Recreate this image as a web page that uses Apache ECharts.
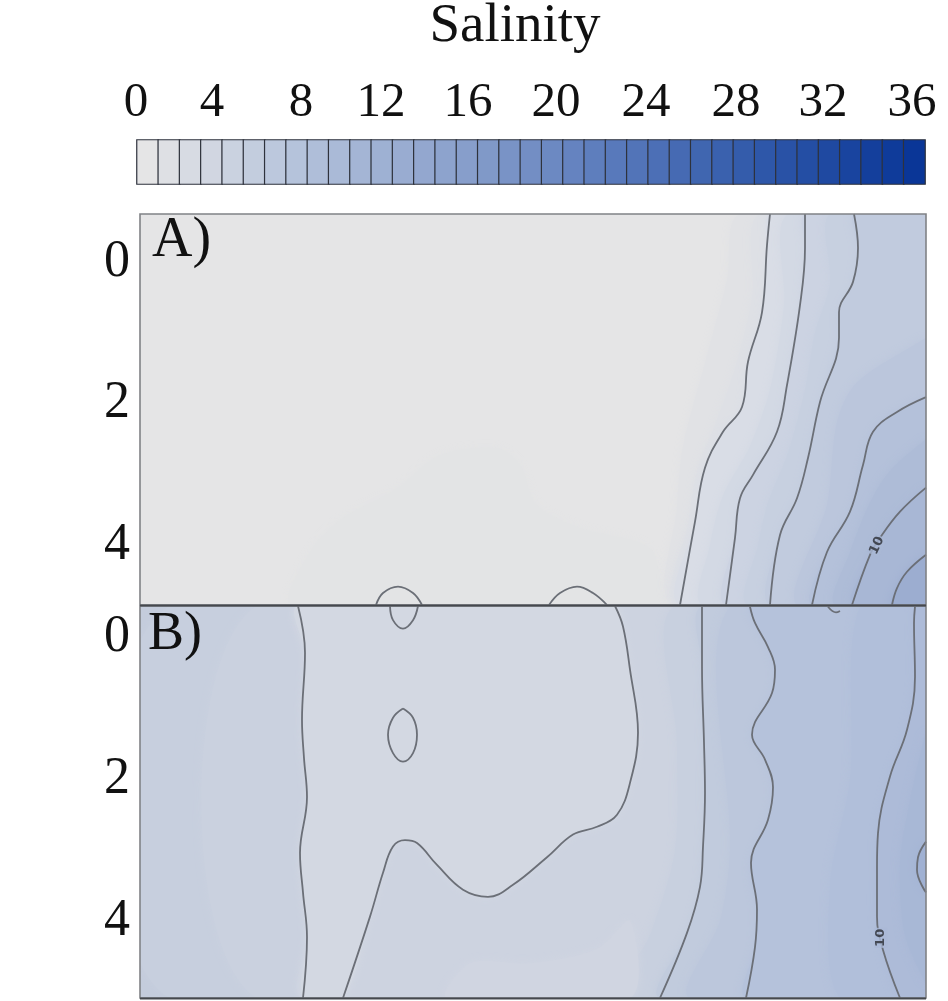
<!DOCTYPE html>
<html><head><meta charset="utf-8">
<style>html,body{margin:0;padding:0;background:#fff}#c{width:948px;height:1001px}</style>
<script src="https://cdn.jsdelivr.net/npm/echarts@6/dist/echarts.min.js"></script>
</head><body><div id="c"></div>
<script>
// ---------- colour bar ----------
const barLevels=[0,1,2,3,4,5,6,7,8,9,10,11,12,13,14,15,16,17,18,19,20,21,22,23,24,25,26,27,28,29,30,31,32,33,34,35,36];
const barColors=['#e5e5e6','#b4c2db','#8ba1cc','#5a7bbc','#2f58a9','#0a3697'];
const barTickLabels=['0','4','8','12','16','20','24','28','32','36'];
const depthTicks=[0,2,4];

// ---------- panel A contours: [distance, depth] ----------
const contourA1=[[63,-.68],[62.7,-.24],[62.2,.71],[60.8,1.41],[60.2,2.05],[58.3,2.4],[56.5,2.91],[55.5,3.67],[54,4.85]];
const contourA2=[[66.5,-.68],[66.5,-.2],[66,.61],[64.7,1.74],[63.7,2.4],[61.3,3.01],[60,3.34],[59.5,3.9],[58.6,4.85]];
const contourA3=[[71.4,-.68],[71.8,-.2],[71.3,.28],[69.9,.71],[69.9,1.07],[68,1.98],[66.8,2.77],[65.7,3.34],[64,3.86],[63,4.85]];
const contourA4=[[78.6,1.91],[75.7,2.12],[73.3,2.4],[72.3,2.87],[71,3.53],[68.7,4.1],[67.2,4.85]];
const contourA5=[[78.6,3.19],[76,3.53],[74,3.9],[73,4.14],[71.2,4.85]];
const contourA6=[[78.6,4.14],[76.7,4.38],[75.7,4.61],[75.2,4.85]];
const contourA7=[[23.6,4.85],[24.3,4.68],[25.8,4.59],[27.3,4.68],[28.2,4.85]];
const contourA8=[[40.9,4.85],[42,4.68],[43.7,4.59],[45.3,4.68],[46.7,4.85]];
// ---------- panel A fill boundaries ----------
const fillA0=[[0,-.68],[0,4.85]];
const fillA1=[[15.3,4.85],[17,4.1],[20.3,3.62],[25.7,3.2],[30,2.73],[35.7,2.63],[38,2.87],[39.7,3.44],[44,3.76],[51,4.05],[53.3,4.85]];
const fillA2=[[60,-.68],[58.7,.25],[56.7,1.32],[54.3,2.6],[53.7,3.46],[53.3,4.85]];
const fillA3=[[62,-.68],[61.2,.5],[59.5,1.5],[57.5,2.3],[55.8,2.9],[54.8,3.7],[53.6,4.85]];
const fillA5=[[64.8,-.68],[64.4,.6],[63,1.8],[61,2.6],[58.3,3.3],[57,4],[56.3,4.85]];
const fillA7=[[69,-.68],[69,.3],[67.5,1],[66.5,1.8],[64.8,2.7],[62.8,3.4],[61.8,4],[60.8,4.85]];
const fillA9=[[78.6,1.07],[71.7,1.7],[69.7,2.26],[68.7,3.43],[65.7,4.85]];
const fillA11=[[78.6,2.5],[75,2.95],[73,3.4],[71,4.1],[69.5,4.85]];

// ---------- panel B contours ----------
const contourB1=[[15.8,-.45],[16.5,.21],[16.2,1.16],[16.4,1.7],[16.7,2.25],[16,3.04],[16.3,3.6],[16.7,4.23],[16.3,5.09]];
const contourB2=[[47.5,-.45],[48.3,-.16],[49,.45],[49.8,1.34],[49,2.05],[47.7,2.5],[45.7,2.67],[43.3,2.78],[40.7,3.1],[37.3,3.49],[34.8,3.66],[32.3,3.56],[29.7,3.21],[27.7,2.9],[26.5,2.86],[25.3,2.95],[24.3,3.32],[23,3.94],[20.3,5.09]];
const contourB3=[[25,-.45],[25.3,-.25],[26.3,-.13],[27.3,-.25],[27.8,-.45]];
const contourB4=[[26.3,1],[27.3,1.13],[27.7,1.37],[27.3,1.63],[26.3,1.75],[25.3,1.63],[24.8,1.37],[25.3,1.13],[26.3,1]];
const contourB5=[[56.2,-.44],[56.2,.41],[56.4,1.48],[56.5,2.19],[56.3,2.95],[56,3.52],[54.7,4.17],[52,5.09]];
const contourB6=[[61,-.44],[61.5,-.21],[62.8,.13],[63.5,.45],[63.2,.78],[61.2,1.37],[62.5,1.72],[63.3,2.11],[62.8,2.57],[61.1,3.18],[61.7,3.84],[61.5,4.37],[60.6,5.09]];
const contourB7=[[77.5,-.44],[77.4,-.21],[77.5,.55],[76.7,1.3],[75,1.96],[73.8,2.76],[73.7,3.24],[73.7,3.94],[74.3,4.41],[76,5.09]];
const contourB8=[[78.6,2.88],[77.8,3.1],[77.7,3.28],[78.6,3.6]];
const contourB9=[[68.8,-.44],[69.6,-.36],[70,-.38]];
// ---------- panel B fill boundaries ----------
const fillB0=[[0,-.45],[0,5.09]];
const fillB1=[[3,-.45],[3,5.09]];
const fillB2=[[11.7,-.45],[11.7,5.09]];
const fillB5=[[53.5,-.45],[53.7,1.5],[53.5,3],[51,4.2],[48,5.09]];
const fillB7=[[59,-.44],[59,3],[58,4],[55,5.09]];
const fillB9=[[72,-.44],[71,2],[69,3.5],[70,5.09]];
const fillB11=[[78.6,1.3],[77,2.3],[76,3.2],[76.5,4.2],[78.6,4.9]];
const fillBPatch=[[30.7,5.09],[33,4.6],[39,4.6],[45.7,4.4],[49,4],[49,5.09]];

const colorsA=['#e5e5e6','#e3e4e5','#e1e2e5','#dee0e5','#d9dde6','#d3d9e4','#ccd3e2','#c7d0e0','#c1cbde','#bbc6dc','#b4c1da','#aebcd7','#a8b7d5','#9cadd0'];
const colorsB=['#c4ccdc','#c7cfde','#cad1df','#cdd3e0','#d3d8e2','#c8d0df','#c1cbdd','#bcc7dc','#b5c2db','#b1bfda','#adbbd8','#a8b8d6','#a0b1d3','#d0d5e1'];

const contoursA=[contourA1,contourA2,contourA3,contourA4,contourA5,contourA6,contourA7,contourA8];
const contoursB=[contourB1,contourB2,contourB3,contourB4,contourB5,contourB6,contourB7,contourB8,contourB9];
const labelA=[[73.7,4.01]];
const labelB=[[74.1,4.24]];

const X_MAX=78.6;
function right(c){const f=c[0],l=c[c.length-1];return c.concat([[X_MAX,l[1]],[X_MAX,f[1]]]);}
const polysA=[fillA0,fillA1,fillA2,fillA3,contourA1,fillA5,contourA2,fillA7,contourA3,fillA9,contourA4,fillA11,contourA5,contourA6].map(right);
const polysB=[right(fillB0),right(fillB1),right(fillB2),right(contourB1),
  contourB1.concat(contourB2.slice().reverse()),
  right(fillB5),right(contourB5),right(fillB7),right(contourB6),right(fillB9),right(contourB7),right(fillB11),right(contourB8),fillBPatch];
function bandSeries(idx,polys,colors){return {
  type:'custom',xAxisIndex:idx,yAxisIndex:idx,z:1,silent:true,clip:true,
  data:polys.map((p,i)=>[p[0][0],p[0][1],i]),
  renderItem:(params,api)=>{
    const i=params.dataIndex;
    return {type:'polygon',shape:{points:polys[i].map(q=>api.coord(q)),smooth:0.3},
      style:{fill:colors[i],shadowBlur:10,shadowColor:colors[i]}};
  }};}
function lineSeries(idx,c){return {
  type:'line',xAxisIndex:idx,yAxisIndex:idx,z:3,data:c,symbol:'none',smooth:.4,silent:true,
  lineStyle:{color:'#6b6f77',width:1.8}};}
function labelSeries(idx,pts,rot,bg){return {
  type:'scatter',xAxisIndex:idx,yAxisIndex:idx,z:4,data:pts,symbolSize:0,silent:true,
  label:{show:true,position:'inside',formatter:'10',rotate:rot,fontFamily:'DejaVu Sans',fontSize:13,fontWeight:'bold',
    color:'#2a2d33',backgroundColor:bg,padding:[0,1]}};}

const GRID_L=140,GRID_W=786;
function valueX(idx){return {type:'value',gridIndex:idx,min:0,max:X_MAX,show:false};}
function valueY(idx,min,max){return {type:'value',gridIndex:idx,min:min,max:max,inverse:true,
  axisLine:{show:false},axisTick:{show:false},splitLine:{show:false},
  axisLabel:{show:true,customValues:depthTicks,margin:10,color:'#111',fontFamily:'Liberation Serif',fontSize:52,padding:[4,0,0,0]}};}

const serif='Liberation Serif';
const tickX=[136,212,301,381,468,556,646,736,823,912];
const graphics=[
 {type:'text',z:10,style:{text:'Salinity',x:515,y:27,align:'center',verticalAlign:'middle',font:'55px "'+serif+'"',fill:'#111'}},
 ...barTickLabels.map((t,i)=>({type:'text',z:10,style:{text:t,x:tickX[i],y:103,align:'center',verticalAlign:'middle',font:'49px "'+serif+'"',fill:'#111'}})),
 {type:'text',z:10,style:{text:'A)',x:152,y:241,verticalAlign:'middle',font:'56px "'+serif+'"',fill:'#111'}},
 {type:'text',z:10,style:{text:'B)',x:148,y:635,verticalAlign:'middle',font:'54px "'+serif+'"',fill:'#111'}},
 {type:'rect',z:9,shape:{x:GRID_L,y:214,width:GRID_W,height:391},style:{fill:'none',stroke:'#808286',lineWidth:1.6}},
 {type:'rect',z:9,shape:{x:GRID_L,y:606,width:GRID_W,height:392},style:{fill:'none',stroke:'#808286',lineWidth:1.6}},
 {type:'line',z:9,shape:{x1:GRID_L,y1:605.5,x2:GRID_L+GRID_W,y2:605.5},style:{stroke:'#45484e',lineWidth:2}},
 {type:'line',z:9,shape:{x1:GRID_L,y1:998.5,x2:GRID_L+GRID_W,y2:998.5},style:{stroke:'#45484e',lineWidth:2}}
];

const chart=echarts.init(document.getElementById('c'),null,{renderer:'canvas'});
chart.setOption({
 animation:false,backgroundColor:'#ffffff',
 grid:[
  {left:GRID_L,width:GRID_W,top:214,height:391},
  {left:GRID_L,width:GRID_W,top:606,height:392},
  {left:137,width:788,top:140,height:44}],
 xAxis:[valueX(0),valueX(1),{type:'category',gridIndex:2,data:barLevels,show:false}],
 yAxis:[valueY(0,-.68,4.85),valueY(1,-.45,5.09),{type:'category',gridIndex:2,data:['s'],show:false}],
 visualMap:{show:false,type:'continuous',min:0,max:36,seriesIndex:0,dimension:2,inRange:{color:barColors}},
 series:[
  {type:'heatmap',xAxisIndex:2,yAxisIndex:2,data:barLevels.map((v,i)=>[i,0,v]),silent:true,
   itemStyle:{borderColor:'#2e323c',borderWidth:1.2}},
  bandSeries(0,polysA,colorsA),
  bandSeries(1,polysB,colorsB),
  ...contoursA.map(c=>lineSeries(0,c)),
  ...contoursB.map(c=>lineSeries(1,c)),
  labelSeries(0,labelA,65,'#a9b8d5'),
  labelSeries(1,labelB,90,'#aab9d7')
 ],
 graphic:graphics
});
</script></body></html>
